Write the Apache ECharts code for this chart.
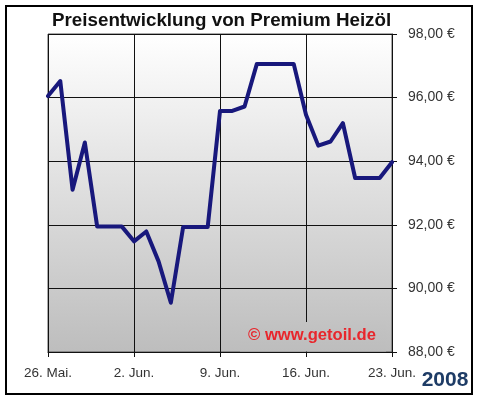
<!DOCTYPE html>
<html>
<head>
<meta charset="utf-8">
<script src="https://cdn.jsdelivr.net/npm/echarts@6/dist/echarts.min.js"></script>
<style>
  html, body { margin: 0; padding: 0; background: #ffffff; }
  #chart { width: 479px; height: 400px; }
</style>
</head>
<body>
<div id="chart"></div>
<script>
// Daily dates from 26 May to 23 June 2008
const categories = [
  '26. Mai.', '27. Mai.', '28. Mai.', '29. Mai.', '30. Mai.', '31. Mai.', '1. Jun.',
  '2. Jun.', '3. Jun.', '4. Jun.', '5. Jun.', '6. Jun.', '7. Jun.', '8. Jun.',
  '9. Jun.', '10. Jun.', '11. Jun.', '12. Jun.', '13. Jun.', '14. Jun.', '15. Jun.',
  '16. Jun.', '17. Jun.', '18. Jun.', '19. Jun.', '20. Jun.', '21. Jun.', '22. Jun.',
  '23. Jun.'
];
// Price of premium heating oil (EUR per 100 l)
const prices = [
  96.05, 96.52, 93.10, 94.59, 91.95, 91.95, 91.95,
  91.48, 91.79, 90.85, 89.55, 91.93, 91.93, 91.93,
  95.58, 95.58, 95.72, 97.06, 97.06, 97.06, 97.06,
  95.46, 94.49, 94.62, 95.20, 93.47, 93.47, 93.47,
  93.97
];
const yTicks = [88, 90, 92, 94, 96, 98];
const titleText = 'Preisentwicklung von Premium Heizöl';
const watermarkText = '© www.getoil.de';
const yearText = '2008';

const FONT = '"Liberation Sans", Arial, Helvetica, sans-serif';
const chart = echarts.init(document.getElementById('chart'), null, { renderer: 'canvas' });

chart.setOption({
  animation: false,
  backgroundColor: '#ffffff',
  grid: {
    left: 48, right: 87, top: 34, bottom: 48,
    show: true,
    borderColor: '#555555',
    borderWidth: 1,
    backgroundColor: new echarts.graphic.LinearGradient(0, 0, 0, 1, [
      { offset: 0, color: '#ffffff' },
      { offset: 1, color: '#bdbdbd' }
    ])
  },
  xAxis: {
    type: 'category',
    data: categories,
    boundaryGap: false,
    axisLine: { show: true, lineStyle: { color: '#111111', width: 1 } },
    axisTick: { show: true, interval: 6, length: 5, lineStyle: { color: '#111111' } },
    axisLabel: {
      interval: 6, margin: 14, color: '#333333',
      fontFamily: FONT, fontSize: 13.5
    },
    splitLine: { show: true, interval: 6, lineStyle: { color: '#111111', width: 1 } }
  },
  yAxis: {
    type: 'value',
    position: 'right',
    min: yTicks[0],
    max: yTicks[yTicks.length - 1],
    interval: 2,
    axisLine: { show: true, lineStyle: { color: '#111111', width: 1 } },
    axisTick: { show: true, length: 5, lineStyle: { color: '#111111' } },
    axisLabel: {
      margin: 16, color: '#333333', fontFamily: FONT, fontSize: 14,
      formatter: v => v.toFixed(2).replace('.', ',') + ' €'
    },
    splitLine: { show: true, lineStyle: { color: '#111111', width: 1 } }
  },
  series: [{
    type: 'line',
    data: prices,
    showSymbol: false,
    symbol: 'none',
    lineStyle: { color: '#18187c', width: 4, join: 'round', cap: 'round' },
    z: 3
  }],
  graphic: [
    {
      type: 'rect', z: 100,
      shape: { x: 6, y: 6, width: 466, height: 388 },
      style: { fill: 'none', stroke: '#000000', lineWidth: 2 }
    },
    {
      type: 'text', z: 100,
      x: 52, y: 20.7,
      style: {
        text: titleText, fill: '#111111',
        font: 'bold 18.8px ' + FONT,
        textAlign: 'left', textVerticalAlign: 'middle', verticalAlign: 'middle'
      }
    },
    {
      type: 'rect', z: 5,
      shape: { x: 240, y: 322, width: 146, height: 29.5 },
      style: {
        fill: new echarts.graphic.LinearGradient(0, 0, 0, 1, [
          { offset: 0, color: '#c3c3c3' },
          { offset: 1, color: '#bdbdbd' }
        ]),
        stroke: 'none'
      }
    },
    {
      type: 'text', z: 6,
      x: 312, y: 335,
      style: {
        text: watermarkText, fill: '#e8262c',
        font: 'bold 16.6px ' + FONT,
        textAlign: 'center', textVerticalAlign: 'middle', verticalAlign: 'middle'
      }
    },
    {
      type: 'text', z: 100,
      x: 445, y: 380,
      style: {
        text: yearText, fill: '#1e3c66',
        font: 'bold 21px ' + FONT,
        textAlign: 'center', textVerticalAlign: 'middle', verticalAlign: 'middle'
      }
    }
  ]
});
</script>
</body>
</html>
